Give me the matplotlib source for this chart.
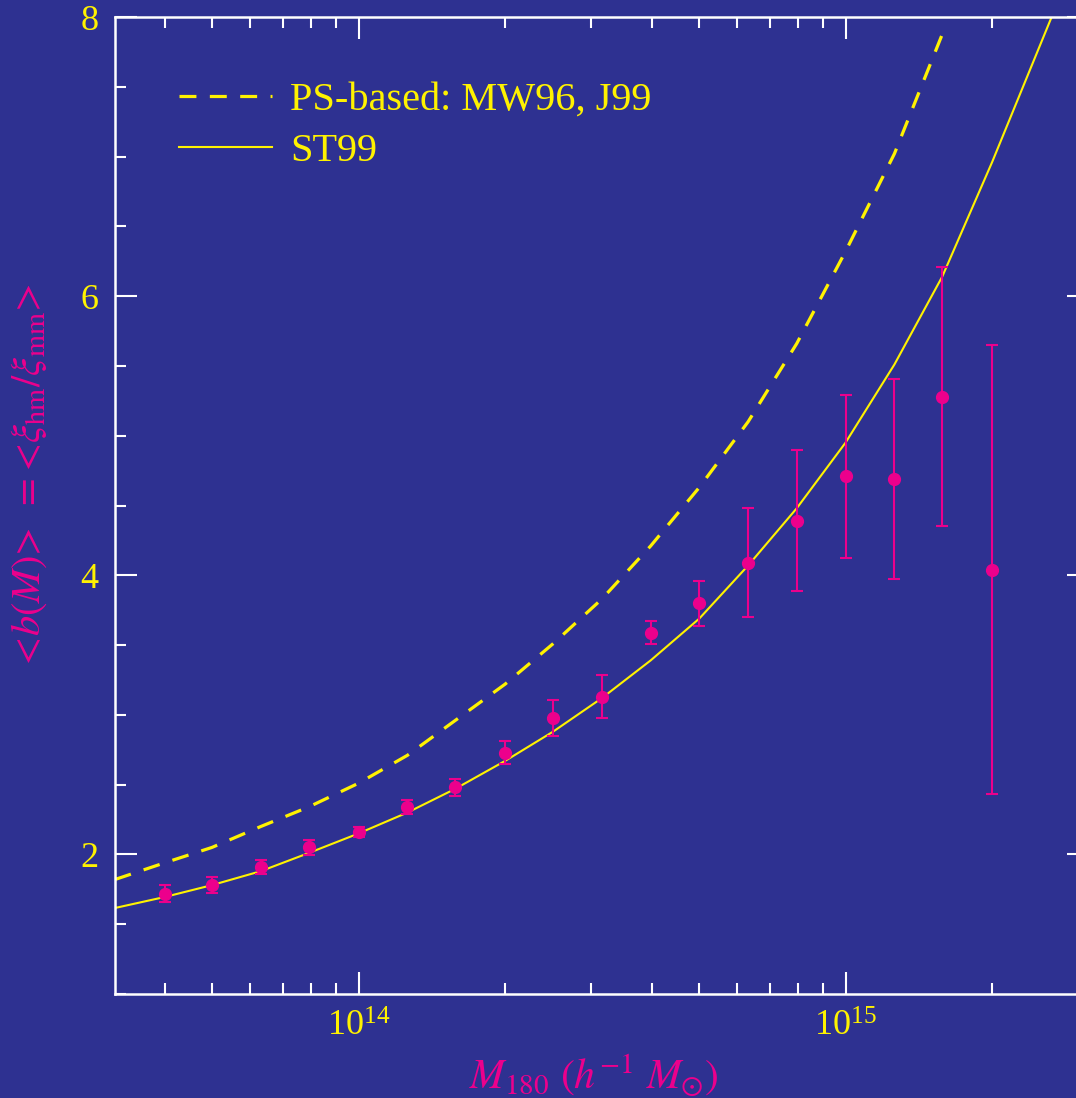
import matplotlib
matplotlib.use('Agg')
import matplotlib.pyplot as plt
from matplotlib.ticker import FixedLocator, NullFormatter, MultipleLocator
from matplotlib.lines import Line2D

# simulation points (0.1 dex bins)
mass = [4.0e13, 5.0e13, 6.3e13, 7.9e13, 1.0e14, 1.26e14, 1.58e14, 2.0e14, 2.51e14,
        3.16e14, 3.98e14, 5.01e14, 6.31e14, 7.94e14, 1.0e15, 1.26e15, 1.58e15, 2.0e15]
bias = [1.72, 1.78, 1.91, 2.05, 2.16, 2.34, 2.48, 2.73, 2.98,
        3.13, 3.59, 3.80, 4.09, 4.39, 4.71, 4.69, 5.28, 4.04]
bias_err = [0.06, 0.055, 0.05, 0.055, 0.035, 0.05, 0.06, 0.08, 0.13,
            0.155, 0.085, 0.16, 0.39, 0.505, 0.585, 0.715, 0.93, 1.61]

# model curves
st_mass = [3.16e13, 4.0e13, 5.0e13, 6.3e13, 7.9e13, 1.0e14, 1.26e14, 1.58e14, 2.0e14,
           2.51e14, 3.16e14, 3.98e14, 5.01e14, 6.31e14, 7.94e14, 1.0e15, 1.26e15,
           1.58e15, 2.0e15, 2.65e15]
st_bias = [1.616, 1.695, 1.78, 1.88, 2.01, 2.15, 2.30, 2.47, 2.67,
           2.88, 3.12, 3.39, 3.69, 4.07, 4.48, 4.95, 5.51,
           6.14, 6.96, 8.0]
ps_mass = [3.16e13, 4.0e13, 5.0e13, 6.3e13, 7.9e13, 1.0e14, 1.26e14, 1.58e14, 2.0e14,
           2.51e14, 3.16e14, 3.98e14, 5.01e14, 6.31e14, 7.94e14, 1.0e15, 1.26e15, 1.59e15]
ps_bias = [1.82, 1.94, 2.05, 2.20, 2.34, 2.51, 2.71, 2.96, 3.22,
           3.51, 3.83, 4.21, 4.63, 5.10, 5.66, 6.32, 7.02, 7.90]

bg = '#2E3191'
yellow = '#FFF200'
magenta = '#EC008C'

plt.rcParams['font.family'] = ['Liberation Serif', 'DejaVu Serif']
plt.rcParams['mathtext.fontset'] = 'stix'

fig = plt.figure(figsize=(10.76, 10.98), dpi=100)
fig.patch.set_facecolor(bg)
ax = fig.add_axes([115/1076, 104/1098, 974/1076, 977/1098])
ax.set_facecolor(bg)

ax.plot(ps_mass, ps_bias, color=yellow, lw=2.3, dashes=(5.3, 4.2))
ax.plot(st_mass, st_bias, color=yellow, lw=1.5)
ax.errorbar(mass, bias, yerr=bias_err, fmt='o', color=magenta, ms=8.5,
            elinewidth=1.5, capsize=4.5, capthick=1.5, zorder=5)

ax.set_xscale('log')
ax.set_xlim(10**13.5, 10**15.5)
ax.set_ylim(1, 8)

ax.xaxis.set_major_locator(FixedLocator([1e14, 1e15]))
ax.set_xticklabels([r'$\mathregular{10^{14}}$', r'$\mathregular{10^{15}}$'])
minors = [k * 10**e for e in (13, 14, 15) for k in range(2, 10)]
ax.xaxis.set_minor_locator(FixedLocator(minors))
ax.xaxis.set_minor_formatter(NullFormatter())
ax.set_yticks([2, 4, 6, 8])
ax.yaxis.set_minor_locator(MultipleLocator(0.5))

ax.tick_params(which='both', direction='in', top=True, right=True,
               color='white', labelcolor=yellow, labelsize=26, width=1.5)
ax.tick_params(which='major', length=16, pad=12)
ax.tick_params(which='minor', length=8)
for sp in ax.spines.values():
    sp.set_color('white')
    sp.set_linewidth(1.8)

ax.set_xlabel(r'$M_{180}\ (h^{-1}\ M_{\odot})$', color=magenta, fontsize=30)
ax.xaxis.set_label_coords(0.492, -0.06)
ax.set_ylabel(r'$<\!b(M)\!>\ =\!<\!\xi_{\rm hm}/\xi_{\rm mm}\!>$', color=magenta, fontsize=29)
ax.yaxis.set_label_coords(-0.068, 0.53)

handles = [Line2D([], [], color=yellow, lw=2.3, dashes=(5.3, 4.2)),
           Line2D([], [], color=yellow, lw=1.5)]
leg = ax.legend(handles, ['PS-based: MW96, J99', 'ST99'], loc='upper left',
                bbox_to_anchor=(0.066, 0.934), frameon=False, fontsize=29,
                handlelength=2.3, handletextpad=0.45, labelspacing=0.35,
                borderpad=0, borderaxespad=0)
for t in leg.get_texts():
    t.set_color(yellow)

fig.savefig('out.png', dpi=100, facecolor=bg)
